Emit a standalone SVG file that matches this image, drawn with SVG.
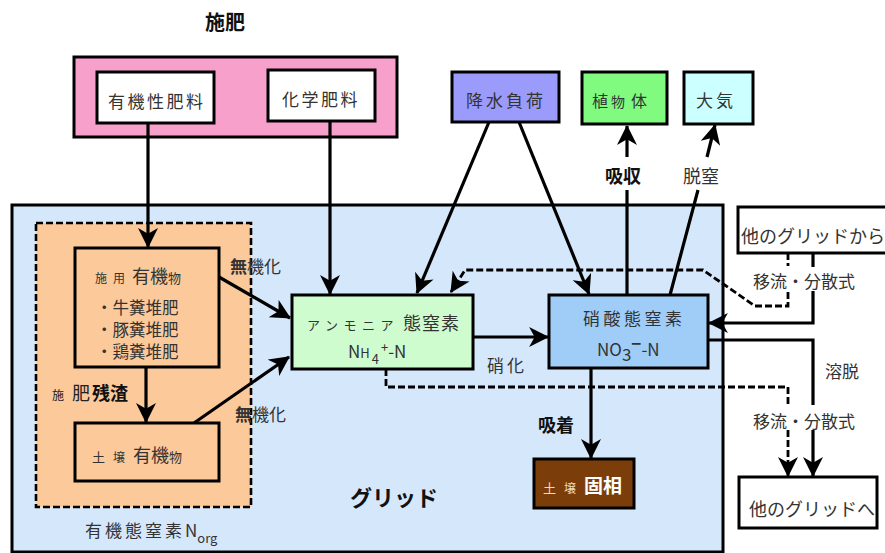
<svg xmlns="http://www.w3.org/2000/svg" width="885" height="553" viewBox="0 0 885 553">
<style>
text{font-family:"Noto Sans CJK JP","Noto Sans CJK SC",sans-serif;fill:#333;}
.box{stroke:#000;stroke-width:3;}
.ln{fill:none;stroke:#000;stroke-width:3.2;}
.ar{marker-end:url(#ah);}
.dash{fill:none;stroke:#000;stroke-width:2.8;stroke-dasharray:7 3;}
.b{font-weight:bold;fill:#111;}
</style>
<defs>
<marker id="ah" markerUnits="userSpaceOnUse" markerWidth="20" markerHeight="20" refX="17" refY="9" orient="auto" viewBox="0 0 18 18">
<path d="M0,0 L18,9 L0,18 L5,9 Z" fill="#000"/>
</marker>
</defs>
<rect width="885" height="553" fill="#fff"/>

<g id="grid">
<rect x="12" y="205" width="711" height="347" fill="#d5e7fb" stroke="#000" stroke-width="3"/>
<text x="350" y="506" font-size="22" class="b">グリッド</text>
</g>

<g id="fertilizer">
<text x="205" y="30" font-size="20" class="b">施肥</text>
<rect x="74" y="57" width="323" height="80" fill="#f8a0cc" class="box"/>
</g>
<g id="organic-fert">
<rect x="97" y="72" width="117" height="51" fill="#fff" class="box"/>
<text x="108" y="108" font-size="17" letter-spacing="2.5">有機性肥料</text>
</g>
<g id="chem-fert">
<rect x="268" y="70" width="107" height="51" fill="#fff" class="box"/>
<text x="282" y="106" font-size="17" letter-spacing="2.5">化学肥料</text>
</g>
<g id="rain">
<rect x="452" y="72" width="107" height="50" fill="#9b9bfb" class="box"/>
<text x="466" y="107" font-size="17" letter-spacing="3">降水負荷</text>
</g>
<g id="plant">
<rect x="582" y="72" width="85" height="52" fill="#80fb80" class="box"/>
<text x="592" y="107"><tspan font-size="16">植</tspan><tspan font-size="14" dx="3">物</tspan><tspan font-size="16" dx="6">体</tspan></text>
</g>
<g id="air">
<rect x="684" y="72" width="69" height="52" fill="#ccffff" class="box"/>
<text x="696" y="107" font-size="17" letter-spacing="3">大気</text>
</g>

<g id="norg">
<rect x="36" y="223" width="215" height="284" fill="#fbc99a" stroke="#000" stroke-width="2.6" stroke-dasharray="7 3"/>
<text x="85" y="537" font-size="17" letter-spacing="3" fill="#444">有機態窒素<tspan letter-spacing="0">N</tspan><tspan font-size="13" dy="6" letter-spacing="0">org</tspan></text>
</g>
<g id="applied">
<rect x="75" y="248" width="144" height="119" fill="#fbc99a" class="box"/>
<text x="95" y="283"><tspan font-size="12">施</tspan><tspan font-size="12" dx="6">用</tspan><tspan font-size="18" dx="7">有機</tspan><tspan font-size="13">物</tspan></text>
<text x="96" y="314" font-size="16.5">・牛糞堆肥</text>
<text x="96" y="336" font-size="16.5">・豚糞堆肥</text>
<text x="96" y="358" font-size="16.5">・鶏糞堆肥</text>
</g>
<g id="soil-organic">
<rect x="75" y="423" width="144" height="58" fill="#fbc99a" class="box"/>
<text x="92" y="462"><tspan font-size="13">土</tspan><tspan font-size="12" dx="8">壌</tspan><tspan font-size="18" dx="8">有機</tspan><tspan font-size="13">物</tspan></text>
</g>

<g id="ammonium">
<rect x="292" y="295" width="181" height="74" fill="#cffccf" class="box"/>
<text x="307" y="330"><tspan font-size="13" letter-spacing="5.5">アンモニア</tspan><tspan font-size="18" dx="4" letter-spacing="1">態窒素</tspan></text>
<text x="348" y="358" font-size="17">N<tspan font-size="13">H</tspan><tspan font-size="13" dy="6" dx="2">4</tspan><tspan font-size="13" dy="-12" dx="2">+</tspan><tspan dy="6">-N</tspan></text>
</g>
<g id="nitrate">
<rect x="549" y="295" width="159" height="73" fill="#9fcdf8" class="box"/>
<text x="583" y="325" font-size="17" letter-spacing="3.5">硝酸態窒素</text>
<text x="597" y="356" font-size="17">NO<tspan dy="5" font-size="17">3</tspan><tspan dy="-11" font-weight="bold">−</tspan><tspan dy="6">-N</tspan></text>
</g>
<g id="soil-solid">
<rect x="534" y="459" width="100" height="49" fill="#7b3e0a" class="box"/>
<text x="543" y="493"><tspan font-size="13" fill="#f0dcc0">土</tspan><tspan font-size="12" dx="8" fill="#f0dcc0">壌</tspan><tspan font-size="19" dx="8" font-weight="bold" fill="#fff">固相</tspan></text>
</g>

<g id="from-grid">
<rect x="738" y="207" width="150" height="46" fill="#fff" class="box"/>
<text x="741" y="243" font-size="18" fill="#111">他のグリッドから</text>
</g>
<g id="to-grid">
<rect x="739" y="477" width="138" height="51" fill="#fff" class="box"/>
<text x="749" y="516" font-size="18" fill="#111">他のグリッドへ</text>
</g>

<g id="connectors">
<path class="ln ar" d="M148,124 V247"/>
<path class="ln ar" d="M330,121 V294"/>
<path class="ln ar" d="M489,122 L417,293"/>
<path class="ln ar" d="M519,122 L589,294"/>
<path class="ln ar" d="M473,337 H548"/>
<path class="ln" d="M627,295 V190"/>
<path class="ln ar" d="M627,157 V126"/>
<path class="ln" d="M670,295 L698,190"/>
<path class="ln ar" d="M707,157 L715,125"/>
<path class="ln ar" d="M146,367 V422"/>
<path class="ln ar" d="M219,277 L290,318"/>
<path class="ln ar" d="M194,423 L289,357"/>
<path class="ln ar" d="M591,368 V458"/>
<path class="ln" d="M813,253 V267"/>
<path class="ln ar" d="M813,291 V323 H709"/>
<path class="dash" d="M788,253 V266"/>
<path class="dash ar" d="M788,292 V306 H755 L703,270 H465 L451,292"/>
<path class="ln" d="M708,340 H813 V405"/>
<path class="ln ar" d="M813,430 V476"/>
<path class="dash" d="M386,369 V387 H788 V405"/>
<path class="dash ar" d="M788,430 V476"/>
</g>

<g id="labels">
<text x="605" y="183" font-size="18" class="b">吸収</text>
<text x="683" y="183" font-size="18" fill="#222">脱窒</text>
<text x="230" y="273" font-size="17" fill="#222"><tspan font-weight="bold">無</tspan>機化</text>
<text x="235" y="421" font-size="17" fill="#222"><tspan font-weight="bold">無</tspan>機化</text>
<text x="487" y="372" font-size="17" letter-spacing="3" fill="#222">硝化</text>
<text x="538" y="432" font-size="18" class="b">吸着</text>
<text x="52" y="400"><tspan font-size="12" fill="#222">施</tspan><tspan font-size="18" dx="8" fill="#222">肥</tspan><tspan font-size="18" font-weight="bold" fill="#111" dx="2">残渣</tspan></text>
<text x="753" y="288" font-size="17" fill="#111">移流・分散式</text>
<text x="825" y="378" font-size="17" fill="#111">溶脱</text>
<text x="753" y="428" font-size="17" fill="#111">移流・分散式</text>
</g>
</svg>
